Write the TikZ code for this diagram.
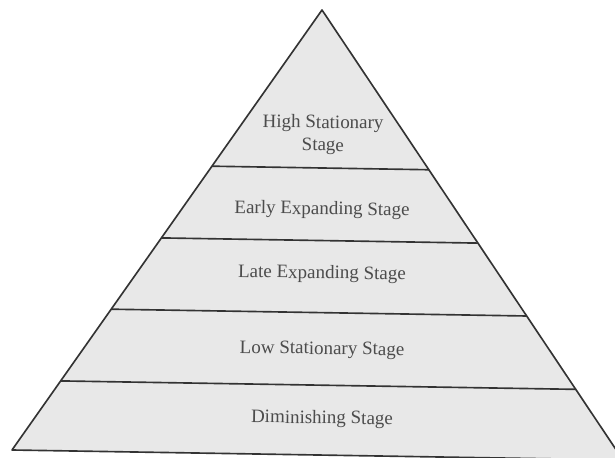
\documentclass[tikz,border=0pt]{standalone}
\usepackage{fontspec}
\setmainfont{Liberation Serif}
\usetikzlibrary{calc}
\colorlet{stageGray}{black!9}
\colorlet{edgeGray}{black!80}
\colorlet{textGray}{black!70}

\begin{document}
\begin{tikzpicture}[x=0.03cm, y=-0.03cm,
    stagelabel/.style={font=\fontsize{16.2}{19.5}\selectfont, text=textGray, align=center, rotate=-0.8}]

        \useasboundingbox (0,0) rectangle (615,458);

        % pyramid outline
        \coordinate (apex) at (322, 10);
        \coordinate (bl)   at (12, 450);
        \coordinate (br)   at (623, 460);

        \draw[edgeGray, line width=1.4pt, line join=round, fill=stageGray]
            (apex) -- (bl) -- (br) -- cycle;

        % stage dividers
        \foreach \t in {0.355, 0.518, 0.680, 0.843}{
            \draw[edgeGray, line width=1.4pt] ($(apex)!\t!(bl)$) -- ($(apex)!\t!(br)$);
        }

        % stage labels
        \node[stagelabel] (high)  at (323, 135) {High Stationary\\Stage};
        \node[stagelabel] (early) at (322, 210) {Early Expanding Stage};
        \node[stagelabel] (late)  at (322, 274) {Late Expanding Stage};
        \node[stagelabel] (low)   at (322, 350) {Low Stationary Stage};
        \node[stagelabel] (dimin) at (322, 419) {Diminishing Stage};

    \end{tikzpicture}
\end{document}
